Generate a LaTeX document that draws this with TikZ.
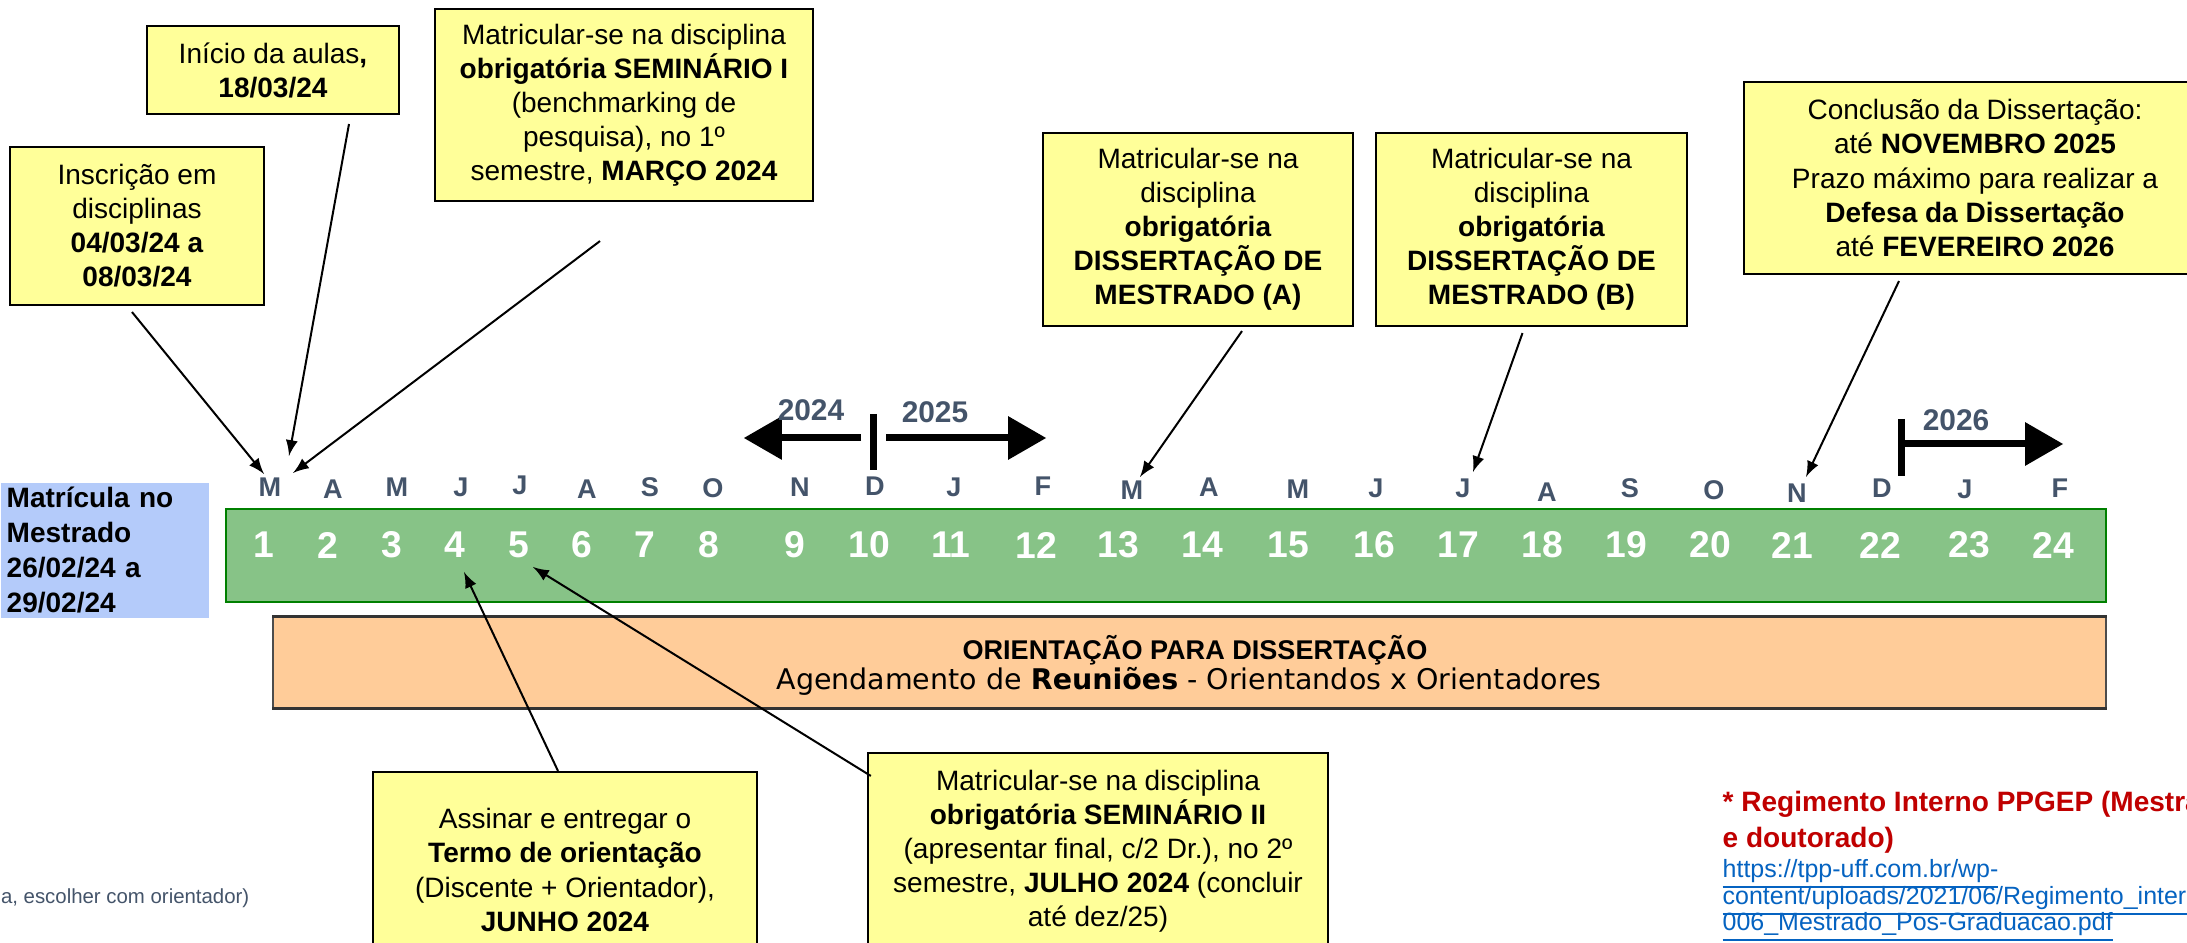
\documentclass[tikz,border=0pt]{standalone}
\usepackage{fontspec}
\setmainfont{Liberation Sans}
\newfontfamily\verdanalike{DejaVu Sans}
\usetikzlibrary{calc,arrows}
\definecolor{noteyellow}{RGB}{255,255,153}
\definecolor{matblue}{RGB}{180,203,250}
\definecolor{bargreen}{RGB}{135,195,135}
\definecolor{bardark}{RGB}{0,128,0}
\definecolor{guidance}{RGB}{255,204,153}
\definecolor{monthgrey}{RGB}{68,84,106}
\definecolor{rulered}{RGB}{192,0,0}
\definecolor{linkblue}{RGB}{5,99,193}
\tikzset{
  note/.style={draw=black,line width=0.02cm,fill=noteyellow,align=center,inner sep=0pt,
    font=\fontsize{7.97}{9.68}\selectfont},
  month/.style={text=monthgrey,font=\bfseries\fontsize{7.7}{9}\selectfont,inner sep=0pt},
  digit/.style={text=white,font=\bfseries\fontsize{10.6}{12}\selectfont,inner sep=0pt},
  year/.style={text=monthgrey,font=\bfseries\fontsize{8.5}{10}\selectfont,inner sep=0pt},
  pointer/.style={-latex,line width=0.02cm},
  yeararrow/.style={-triangle 60,line width=0.07cm},
  footline/.style={anchor=base west,inner sep=0pt},
}
\begin{document}
\begin{tikzpicture}[x=0.01cm,y=-0.01cm]
\clip (0,0) rectangle (2187,943);
\fill[white] (0,0) rectangle (2187,943);

% barra dos meses
\node[draw=bardark,fill=bargreen,line width=0.02cm,minimum width=18.79cm,minimum height=0.93cm,
  anchor=north west,inner sep=0pt] (bar) at (225,508) {};
\node[fill=matblue,minimum width=2.08cm,minimum height=1.35cm,anchor=north west,inner xsep=0.06cm,
  inner ysep=0pt,align=left,text width=1.96cm,font=\bfseries\fontsize{7.97}{9.96}\selectfont]
  (matr) at (0,482) {Matrícula no\\Mestrado\\26/02/24 a\\29/02/24};
\foreach \n/\x in {1/264,2/328,3/392,4/455,5/519,6/582,7/645,8/709,9/795,10/869,11/951,12/1036,
  13/1118,14/1202,15/1288,16/1374,17/1458,18/1542,19/1626,20/1710,21/1792,22/1880,23/1969,24/2053}
  \node[digit] (d\n) at (\x,545) {\n};
\foreach \n/\x/\y/\m in {1/270/487/M,2/333/489/A,3/397/487/M,4/461/487/J,5/520/485/J,6/587/489/A,
  7/650/487/S,8/713/488/O,9/800/487/N,10/875/486/D,11/954/487/J,12/1043/486/F,13/1132/490/M,
  14/1209/487/A,15/1298/489/M,16/1376/488/J,17/1463/488/J,18/1547/492/A,19/1630/488/S,
  20/1714/490/O,21/1797/493/N,22/1882/488/D,23/1965/489/J,24/2060/488/F}
  \node[month] (m\n) at (\x,\y) {\m};

% anos
\draw[line width=0.07cm] (873,414) -- (873,470);
\draw[yeararrow] (861,438) -- (744,438);
\draw[yeararrow] (886,438) -- (1046,438);
\node[year] (y24) at (811,410) {2024};
\node[year] (y25) at (935,412) {2025};
\draw[line width=0.07cm] (1901,419) -- (1901,476);
\draw[yeararrow] (1905,444) -- (2063,444);
\node[year] (y26) at (1956,420) {2026};

\node[fill=guidance,draw=black!70,line width=0.015cm,minimum width=18.32cm,minimum height=0.9cm,
  anchor=north west,inner sep=0pt] (orient) at (272,617) {};
\draw[line width=0.03cm,black!80] (orient.north west) -- (orient.north east);
\draw[line width=0.03cm,black!80] (orient.south west) -- (orient.south east);
\node[font=\bfseries\fontsize{7.7}{9}\selectfont,inner sep=0pt] (ortitle) at (1195,650) {ORIENTAÇÃO PARA DISSERTAÇÃO};
\node[font=\verdanalike\fontsize{8.1}{9.5}\selectfont,inner sep=0pt] (orsub) at (1189,681)
  {Agendamento de \textbf{Reuniões} - Orientandos x Orientadores};

% quadros
\node[note,minimum width=2.54cm,minimum height=1.58cm] (insc) at (137,226)
  {Inscrição em\\disciplinas\\\textbf{04/03/24 a}\\\textbf{08/03/24}};
\node[note,minimum width=2.51cm,minimum height=0.88cm] (inicio) at (273,70)
  {Início da aulas\textbf{,}\\\textbf{18/03/24}};
\node[note,minimum width=3.78cm,minimum height=1.92cm] (sem1) at (624,105)
  {Matricular-se na disciplina\\\textbf{obrigatória SEMINÁRIO I}\\(benchmarking de\\pesquisa), no 1º\\semestre, \textbf{MARÇO 2024}};
\node[note,minimum width=3.10cm,minimum height=1.93cm] (dissA) at (1198,229.5)
  {Matricular-se na\\disciplina\\\textbf{obrigatória}\\\textbf{DISSERTAÇÃO DE}\\\textbf{MESTRADO (A)}};
\node[note,minimum width=3.11cm,minimum height=1.93cm] (dissB) at (1531.5,229.5)
  {Matricular-se na\\disciplina\\\textbf{obrigatória}\\\textbf{DISSERTAÇÃO DE}\\\textbf{MESTRADO (B)}};
\node[note,minimum width=4.62cm,minimum height=1.92cm] (concl) at (1975,178)
  {Conclusão da Dissertação:\\até \textbf{NOVEMBRO 2025}\\Prazo máximo para realizar a\\\textbf{Defesa da Dissertação}\\até \textbf{FEVEREIRO 2026}};
\node[note,minimum width=3.84cm,minimum height=1.96cm] (termo) at (565,870)
  {Assinar e entregar o\\\textbf{Termo de orientação}\\(Discente + Orientador),\\\textbf{JUNHO 2024}};
\node[note,minimum width=4.60cm,minimum height=1.97cm] (sem2) at (1098,851.5)
  {Matricular-se na disciplina\\\textbf{obrigatória SEMINÁRIO II}\\(apresentar final, c/2 Dr.), no 2º\\semestre, \textbf{JULHO 2024} (concluir\\até dez/25)};

\draw[pointer] ([shift={(-5,6)}]insc.south) -- ([shift={(-6,-13)}]m1.center);
\draw[pointer] ([shift={(76,9)}]inicio.south) -- ([shift={(19,-31)}]m1.center);
\draw[pointer] ([shift={(-24,39)}]sem1.south) -- ([shift={(23,-14)}]m1.center);
\draw[pointer] ([shift={(44,4)}]dissA.south) -- ([shift={(8,-13)}]m13.center);
\draw[pointer] ([shift={(-9,6)}]dissB.south) -- ([shift={(10,-16)}]m17.center);
\draw[pointer] ([shift={(-76,6)}]concl.south) -- ([shift={(9,-16)}]m21.center);
\draw[pointer] ([shift={(-7,0)}]termo.north) -- ([shift={(9,27)}]d4.center);
\draw[pointer] ([shift={(4,24)}]sem2.north west) -- ([shift={(14,22)}]d5.center);

\node[anchor=base east,inner sep=0pt,text=monthgrey,font=\fontsize{5.8}{7}\selectfont] (frag) at (250,903)
  {a, escolher com orientador)};
\node[footline,text=rulered,font=\bfseries\fontsize{7.97}{10}\selectfont] (reg1) at (1722,811) {* Regimento Interno PPGEP (Mestrado};
\node[footline,text=rulered,font=\bfseries\fontsize{7.97}{10}\selectfont] (reg2) at (1722,847) {e doutorado)};
\node[footline,text=linkblue,font=\fontsize{7.1}{8.5}\selectfont] (url1) at (1722,877) {\underline{https://tpp-uff.com.br/wp-}};
\node[footline,text=linkblue,font=\fontsize{7.1}{8.5}\selectfont] (url2) at (1722,904) {\underline{content/uploads/2021/06/Regimento\_interno}};
\node[footline,text=linkblue,font=\fontsize{7.1}{8.5}\selectfont] (url3) at (1722,930) {\underline{006\_Mestrado\_Pos-Graduacao.pdf}};
\end{tikzpicture}
\end{document}
